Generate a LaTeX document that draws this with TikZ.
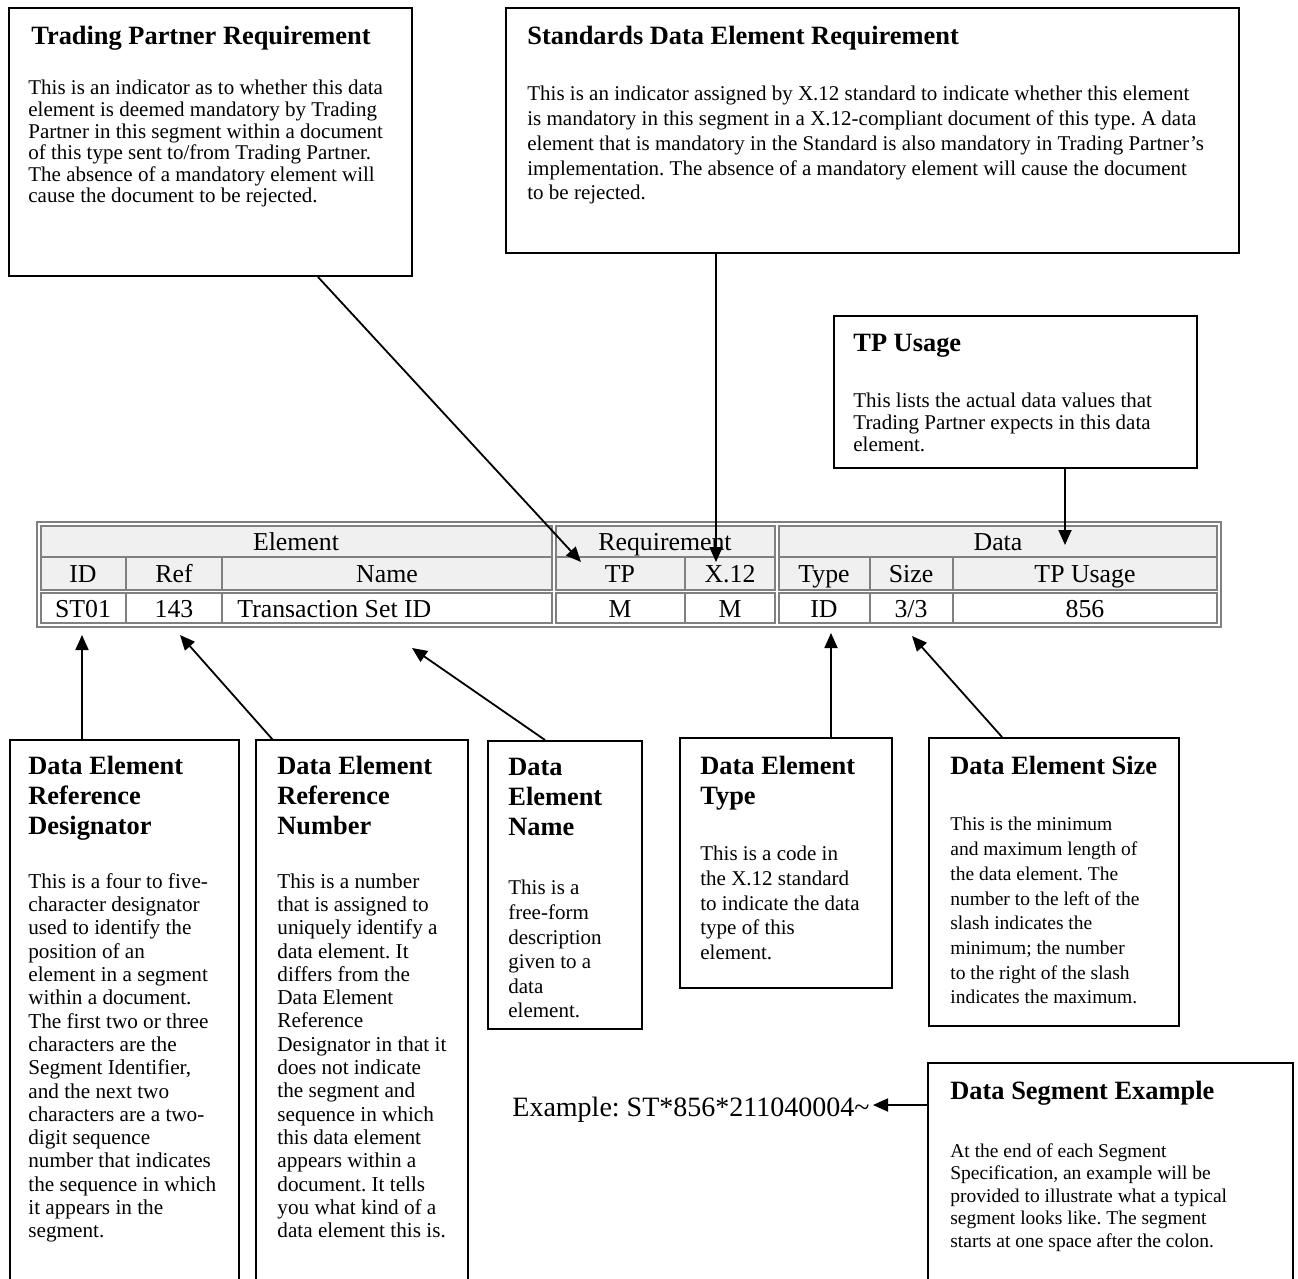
\documentclass[tikz,border=0pt]{standalone}
\usepackage{fontspec}
\setmainfont{Liberation Serif}
\usetikzlibrary{arrows.meta,calc}
\definecolor{tblgray}{HTML}{808080}
\definecolor{hdrfill}{HTML}{F0F0F0}
\frenchspacing
\begin{document}
\begin{tikzpicture}[x=0.5pt,y=-0.5pt,
  box/.style={draw=black, line width=1pt, inner sep=0pt, anchor=north west},
  openbox/.style={draw=none, inner sep=0pt, anchor=north west},
  ttl/.style={anchor=north west, inner sep=0pt, align=left, font=\fontsize{13.2pt}{15pt}\selectfont\bfseries},
  bodyA/.style={anchor=north west, inner sep=0pt, align=left, font=\fontsize{10.5pt}{10.8pt}\selectfont},
  bodyB/.style={anchor=north west, inner sep=0pt, align=left, font=\fontsize{10.5pt}{12.35pt}\selectfont},
  bodyC/.style={anchor=north west, inner sep=0pt, align=left, font=\fontsize{10.6pt}{11.65pt}\selectfont},
  bodyD/.style={anchor=north west, inner sep=0pt, align=left, font=\fontsize{10.5pt}{12.3pt}\selectfont},
  bodyE/.style={anchor=north west, inner sep=0pt, align=left, font=\fontsize{9.75pt}{12.35pt}\selectfont},
  bodyF/.style={anchor=north west, inner sep=0pt, align=left, font=\fontsize{9.75pt}{11.25pt}\selectfont},
  tcell/.style={anchor=base, inner sep=0pt, font=\fontsize{12.9pt}{14pt}\selectfont},
  tcellw/.style={anchor=base west, inner sep=0pt, font=\fontsize{12.9pt}{14pt}\selectfont},
  tline/.style={draw=tblgray, line width=1pt},
  arr/.style={line width=0.9pt, -{Triangle[length=7.5pt,width=6.5pt]}}
]
\useasboundingbox (0,0) rectangle (1298,1279);

% ---------- top boxes ----------
\node[box, minimum width=201.5pt, minimum height=134pt] (tpreq) at (8,7) {};
\node[ttl] (tpreqT) at (31,26) {Trading Partner Requirement};
\node[bodyA] (tpreqB) at (28,80) {This is an indicator as to whether this data\\
element is deemed mandatory by Trading\\
Partner in this segment within a document\\
of this type sent to/from Trading Partner.\\
The absence of a mandatory element will\\
cause the document to be rejected.};

\node[box, minimum width=366.5pt, minimum height=122.5pt] (stdreq) at (505,7) {};
\node[ttl] (stdreqT) at (527,26) {Standards Data Element Requirement};
\node[bodyB] (stdreqB) at (527,86) {This is an indicator assigned by X.12 standard to indicate whether this element\\
is mandatory in this segment in a X.12-compliant document of this type. A data\\
element that is mandatory in the Standard is also mandatory in Trading Partner’s\\
implementation. The absence of a mandatory element will cause the document\\
to be rejected.};

\node[box, minimum width=181.5pt, minimum height=76pt] (tpuse) at (833,315) {};
\node[ttl] (tpuseT) at (853,334) {TP Usage};
\node[bodyA] (tpuseB) at (853,393) {This lists the actual data values that\\
Trading Partner expects in this data\\
element.};

% ---------- table ----------
\draw[tline] (37,522) rectangle (1221,627);
\filldraw[tline, fill=hdrfill] (41,526) rectangle (552,590);
\filldraw[tline, fill=hdrfill] (556,526) rectangle (775,590);
\filldraw[tline, fill=hdrfill] (779,526) rectangle (1217,590);
\draw[tline] (41,593) rectangle (552,623);
\draw[tline] (556,593) rectangle (775,623);
\draw[tline] (779,593) rectangle (1217,623);
\draw[tline] (41,557) -- (552,557);
\draw[tline] (556,557) -- (775,557);
\draw[tline] (779,557) -- (1217,557);
\foreach \cx in {126,222,685,870,953}{
  \draw[tline] (\cx,557) -- (\cx,590);
  \draw[tline] (\cx,593) -- (\cx,623);
}
\node[tcell] (hElem) at (296,550) {Element};
\node[tcell] (hReq) at (665,550) {Requirement};
\node[tcell] (hData) at (998,550) {Data};
\node[tcell] (hID) at (83,582) {ID};
\node[tcell] (hRef) at (174,582) {Ref};
\node[tcell] (hName) at (387,582) {Name};
\node[tcell] (hTP) at (620,582) {TP};
\node[tcell] (hX) at (730,582) {X.12};
\node[tcell] (hType) at (824,582) {Type};
\node[tcell] (hSize) at (911,582) {Size};
\node[tcell] (hUse) at (1085,582) {TP Usage};
\node[tcell] (dID) at (83,617) {ST01};
\node[tcell] (dRef) at (174,617) {143};
\node[tcellw] (dName) at (237,617) {Transaction Set ID};
\node[tcell] (dTP) at (620,617) {M};
\node[tcell] (dX) at (730,617) {M};
\node[tcell] (dType) at (824,617) {ID};
\node[tcell] (dSize) at (911,617) {3/3};
\node[tcell] (dUse) at (1085,617) {856};

% ---------- bottom boxes ----------
\node[openbox, minimum width=114pt, minimum height=269.5pt] (desig) at (10,740) {};
\draw[line width=1pt] (desig.south west) -- (desig.north west) -- (desig.north east) -- (desig.south east);
\node[ttl] (desigT) at (28,756) {Data Element\\Reference\\Designator};
\node[bodyC] (desigB) at (28,873) {This is a four to five-\\
character designator\\
used to identify the\\
position of an\\
element in a segment\\
within a document.\\
The first two or three\\
characters are the\\
Segment Identifier,\\
and the next two\\
characters are a two-\\
digit sequence\\
number that indicates\\
the sequence in which\\
it appears in the\\
segment.};

\node[openbox, minimum width=105.5pt, minimum height=269.5pt] (refnum) at (256,740) {};
\draw[line width=1pt] (refnum.south west) -- (refnum.north west) -- (refnum.north east) -- (refnum.south east);
\node[ttl] (refnumT) at (277,756) {Data Element\\Reference\\Number};
\node[bodyC] (refnumB) at (277,873) {This is a number\\
that is assigned to\\
uniquely identify a\\
data element. It\\
differs from the\\
Data Element\\
Reference\\
Designator in that it\\
does not indicate\\
the segment and\\
sequence in which\\
this data element\\
appears within a\\
document. It tells\\
you what kind of a\\
data element this is.};

\node[box, minimum width=77pt, minimum height=144pt] (dename) at (487,740) {};
\node[ttl] (denameT) at (508,758) {Data\\Element\\Name};
\node[bodyD] (denameB) at (508,880) {This is a\\
free-form\\
description\\
given to a\\
data\\
element.};

\node[box, minimum width=106pt, minimum height=125pt] (detype) at (679,737) {};
\node[ttl] (detypeT) at (700,756) {Data Element\\Type};
\node[bodyD] (detypeB) at (700,846) {This is a code in\\
the X.12 standard\\
to indicate the data\\
type of this\\
element.};

\node[box, minimum width=125pt, minimum height=144pt] (desize) at (928,737) {};
\node[ttl] (desizeT) at (950,756) {Data Element Size};
\node[bodyE] (desizeB) at (950,817) {This is the minimum\\
and maximum length of\\
the data element. The\\
number to the left of the\\
slash indicates the\\
minimum; the number\\
to the right of the slash\\
indicates the maximum.};

\node[openbox, minimum width=182pt, minimum height=108pt] (segex) at (928,1063) {};
\draw[line width=1pt] (segex.south west) -- (segex.north west) -- (segex.north east) -- (segex.south east);
\node[ttl] (segexT) at (950,1081) {Data Segment Example};
\node[bodyF] (segexB) at (950,1143) {At the end of each Segment\\
Specification, an example will be\\
provided to illustrate what a typical\\
segment looks like. The segment\\
starts at one space after the colon.};

\node[anchor=base west, inner sep=0pt, font=\fontsize{14pt}{16pt}\selectfont] (extext) at (512,1116) {Example: ST*856*211040004\textasciitilde};

% ---------- arrow end points ----------
\coordinate (tipTP) at (581,562);
\coordinate (tipX) at (716,562);
\coordinate (tipU) at (1065,545);
\coordinate (tipID) at (82,635);
\coordinate (tipRef) at (180,635);
\coordinate (tipName) at (412,648);
\coordinate (tipType) at (831,633);
\coordinate (tipSize) at (912,636);
\coordinate (tipEx) at (873,1105);

% ---------- arrows ----------
\draw[arr] ($(tpreq.south west)+(310,0)$) -- (tipTP);
\draw[arr] ($(stdreq.south west)+(211,0)$) -- (tipX);
\draw[arr] ($(tpuse.south west)+(232,0)$) -- (tipU);
\draw[arr] ($(desig.north west)+(72,0)$) -- (tipID);
\draw[arr] ($(refnum.north west)+(17,0)$) -- (tipRef);
\draw[arr] ($(dename.north west)+(58,0)$) -- (tipName);
\draw[arr] ($(detype.north west)+(152,0)$) -- (tipType);
\draw[arr] ($(desize.north west)+(74,0)$) -- (tipSize);
\draw[arr] ($(segex.north west)+(0,42)$) -- (tipEx);
\end{tikzpicture}
\end{document}
